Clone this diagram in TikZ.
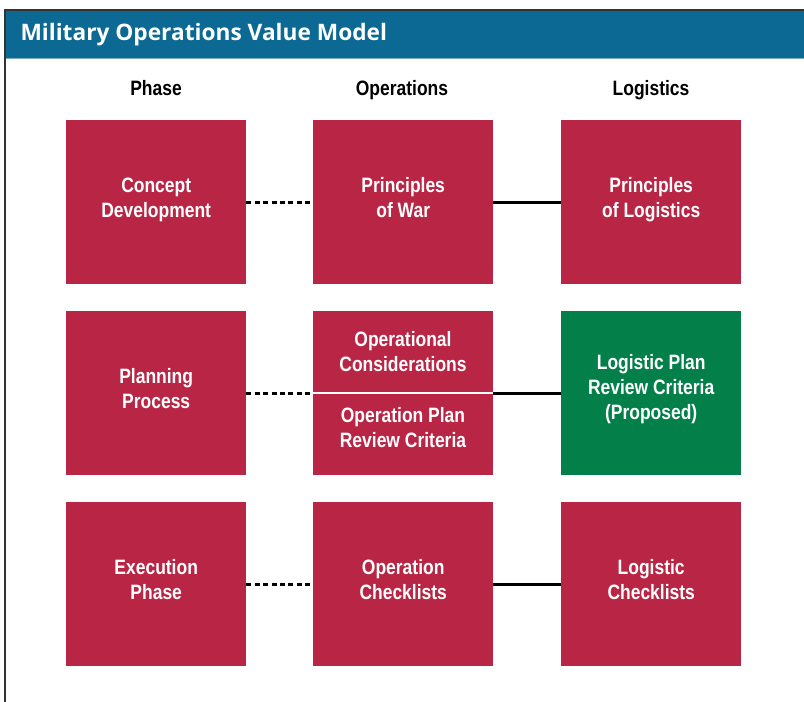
\documentclass[tikz,border=0pt]{standalone}
\usepackage{fontspec}
\setmainfont{Liberation Sans}
\newfontfamily\condf[FakeStretch=0.84]{Liberation Sans}
\newfontfamily\titlef{Open Sans}
\definecolor{crim}{HTML}{B92645}
\definecolor{grn}{HTML}{03804A}
\definecolor{hdrblue}{HTML}{0B6994}
\definecolor{frame}{HTML}{333333}
\begin{document}
\begin{tikzpicture}[x=1pt,y=-1pt,
  box/.style={fill=crim,minimum width=180pt,minimum height=164pt,inner sep=0pt,anchor=north west},
  gbox/.style={box,fill=grn},
  lbl/.style={text=white,align=center,inner sep=0pt,yshift=2pt,font=\condf\bfseries\fontsize{20.8}{25}\selectfont},
  colhead/.style={anchor=base,font=\condf\bfseries\fontsize{20.8}{24}\selectfont,text=black},
  dotline/.style={line width=2.8pt,dash pattern=on 5pt off 3.4pt},
  solidline/.style={line width=2.8pt}]
\useasboundingbox (0,0) rectangle (804,702);
\fill[white] (0,0) rectangle (804,702);
% title bar
\fill[hdrblue] (5,10) rectangle (804,58);
\draw[line width=1pt,color=hdrblue!55!white] (5,58.5) -- (804,58.5);
\draw[frame,line width=2pt] (5,702) -- (5,10) -- (804,10);
\node[anchor=west,text=white,font=\titlef\bfseries\fontsize{22.7}{26}\selectfont] (title) at (17,35) {Military Operations Value Model};
% column heads
\node[colhead] (h1) at (156,95) {Phase};
\node[colhead] (h2) at (402,95) {Operations};
\node[colhead] (h3) at (651,95) {Logistics};
% row 1
\node[box] (a1) at (66,120) {};
\node[box] (b1) at (313,120) {};
\node[box] (c1) at (561,120) {};
% row 2
\node[box] (a2) at (66,311) {};
\node[box] (b2) at (313,311) {};
\node[gbox] (c2) at (561,311) {};
% row 3
\node[box] (a3) at (66,502) {};
\node[box] (b3) at (313,502) {};
\node[box] (c3) at (561,502) {};
\draw[white,line width=1.6pt] (b2.west) -- (b2.east);
% labels
\node[lbl] (la1) at (a1.center) {\strut Concept\\\strut Development};
\node[lbl] (lb1) at (b1.center) {\strut Principles\\\strut of War};
\node[lbl] (lc1) at (c1.center) {\strut Principles\\\strut of Logistics};
\node[lbl] (la2) at (a2.center) {\strut Planning\\\strut Process};
\node[lbl] (lb2t) at (403,356) {\strut Operational\\\strut Considerations};
\node[lbl] (lb2b) at (403,432) {\strut Operation Plan\\\strut Review Criteria};
\node[lbl,yshift=1.5pt] (lc2) at (c2.center) {\strut Logistic Plan\\\strut Review Criteria\\\strut (Proposed)};
\node[lbl] (la3) at (a3.center) {\strut Execution\\\strut Phase};
\node[lbl] (lb3) at (b3.center) {\strut Operation\\\strut Checklists};
\node[lbl] (lc3) at (c3.center) {\strut Logistic\\\strut Checklists};
% connectors
\draw[dotline] (a1.east) -- (b1.west);
\draw[solidline] (b1.east) -- (c1.west);
\draw[dotline] (a2.east) -- (b2.west);
\draw[solidline] (b2.east) -- (c2.west);
\draw[dotline] (a3.east) -- (b3.west);
\draw[solidline] (b3.east) -- (c3.west);
\end{tikzpicture}
\end{document}
